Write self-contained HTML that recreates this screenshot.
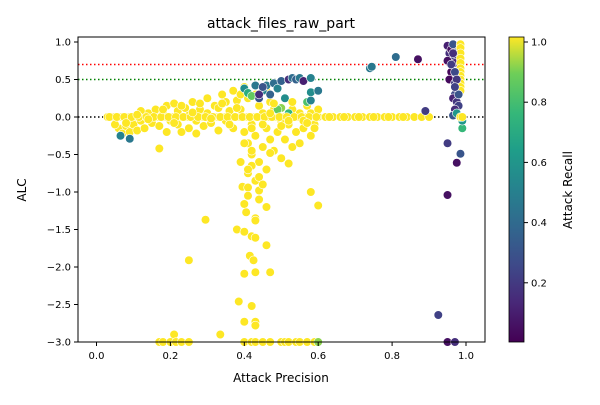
<!DOCTYPE html>
<html><head><meta charset="utf-8"><style>
body{margin:0;background:#fff;font-family:"Liberation Sans","DejaVu Sans",sans-serif;}
svg text{font-family:"DejaVu Sans","Liberation Sans",sans-serif;}
</style></head><body>
<svg id="chart" width="600" height="400" viewBox="0 0 600 400" xmlns="http://www.w3.org/2000/svg">
<defs><linearGradient id="vir" x1="0" y1="1" x2="0" y2="0">
<stop offset="0" stop-color="#440154"/><stop offset="0.13" stop-color="#482878"/><stop offset="0.25" stop-color="#3e4989"/><stop offset="0.38" stop-color="#31688e"/><stop offset="0.5" stop-color="#26828e"/><stop offset="0.63" stop-color="#1f9e89"/><stop offset="0.75" stop-color="#35b779"/><stop offset="0.88" stop-color="#6ece58"/><stop offset="1" stop-color="#fde725"/></linearGradient></defs>
<rect x="0" y="0" width="600" height="400" fill="#fff"/>
<text x="281" y="28" font-size="14" text-anchor="middle">attack_files_raw_part</text>
<g id="plot"></g>
<rect x="78" y="37" width="407" height="305" fill="none" stroke="#000" stroke-width="1"/>
<g id="axes"></g>
<text x="281" y="382" font-size="12" text-anchor="middle">Attack Precision</text>
<text x="26" y="190" font-size="12" text-anchor="middle" transform="rotate(-90 26 190)">ALC</text>
<rect x="509" y="37" width="15" height="305" fill="url(#vir)" stroke="#000" stroke-width="0.8"/>
<g id="cbticks"></g>
<text x="572" y="190" font-size="12" text-anchor="middle" transform="rotate(-90 572 190)">Attack Recall</text>
</svg>
<script>
const xTicks=[0.0,0.2,0.4,0.6,0.8,1.0];
const yTicks=[1.0,0.5,0.0,-0.5,-1.0,-1.5,-2.0,-2.5,-3.0];
const cTicks=[0.2,0.4,0.6,0.8,1.0];
const refLines=[0.7,0.5,0.0];
const refColors=['red','green','black'];
const xs=[0.03,0.04,0.05,0.06,0.07,0.08,0.09,0.10,0.11,0.12,0.13,0.14,0.15,0.16,0.17,0.18,0.19,0.2,0.21,0.22,0.23,0.24,0.25,0.26,0.27,0.28,0.29,0.30,0.31,0.32,0.33,0.34,0.35,0.36,0.37,0.38,0.39,0.40,0.41,0.42,0.43,0.44,0.45,0.46,0.47,0.48,0.49,0.50,0.51,0.52,0.53,0.54,0.55,0.56,0.57,0.58,0.59,0.60,0.62,0.64,0.66,0.68,0.70,0.72,0.74,0.76,0.78,0.80,0.82,0.84,0.86,0.88,0.90,
0.06,0.07,0.08,0.09,0.10,0.11,0.12,0.13,0.14,0.15,0.16,0.17,0.17,0.18,0.19,0.20,0.21,0.22,0.22,0.23,0.24,0.25,0.25,0.26,0.27,0.27,0.28,0.29,0.30,0.30,0.31,0.32,0.33,0.33,0.34,0.35,0.35,0.36,0.37,0.37,0.38,0.39,0.40,0.05,0.08,0.12,0.19,0.23,0.28,
0.40,0.41,0.42,0.42,0.43,0.44,0.44,0.45,0.45,0.46,0.46,0.47,0.47,0.48,0.48,0.49,0.50,0.50,0.51,0.51,0.52,0.53,0.53,0.54,0.55,0.55,0.56,0.57,0.58,0.58,0.59,0.60,0.41,0.43,0.44,0.39,0.40,0.42,0.43,0.46,0.39,0.41,0.52,0.47,
0.395,0.41,0.41,0.44,0.44,0.46,0.40,0.405,0.43,0.43,0.295,0.38,0.40,0.42,0.43,0.46,0.415,0.425,0.40,0.43,0.47,0.25,0.58,0.60,0.385,0.42,0.40,0.43,0.43,0.335,0.21,0.42,0.45,0.41,
0.17,0.18,0.20,0.215,0.23,0.25,0.40,0.42,0.43,0.45,0.47,0.50,0.51,0.52,0.54,0.55,0.57,0.59,0.60,0.95,0.97,
0.09,0.065,
0.40,0.41,0.42,0.43,0.44,0.45,0.46,0.47,0.48,0.49,0.50,0.51,0.52,0.53,0.54,0.55,0.56,0.57,0.58,0.58,0.60,0.58,0.44,0.45,0.50,0.49,0.52,
0.81,0.87,0.74,0.745,0.89,0.95,0.985,0.975,0.99,0.99,0.95,0.925,
0.95,0.955,0.96,0.965,0.97,0.95,0.96,0.955,0.97,0.975,0.97,0.965,0.975,0.98,0.97,0.965,0.98,0.975,0.97,0.98,0.985,0.975,
0.985,0.985,0.985,0.985,0.985,0.985,0.985,0.985,0.985,0.985,0.985,0.985,0.985,0.99,
0.035,0.055,0.075,0.095,0.115,0.135,0.155,0.175,0.195,0.215,0.235,0.255,0.275,0.295,0.315,0.335,0.355,0.375,0.395,0.415,0.435,0.455,0.475,0.495,0.515,0.535,0.555,0.575,0.595,0.63,0.67,0.71,0.75,0.79,0.83,
0.08,0.11,0.14,0.18,0.21,0.26,0.31,0.34,0.36,0.38,0.45,0.48,0.5,0.53,0.56,0.59,0.42,0.47,0.52,0.57,
0.96,0.97,0.975,0.98,0.97,0.965];
const ys=[0,0,0,0,0,0,0,0,0,0,0,0,0,0,0,0,0,0,0,0,0,0,0,0,0,0,0,0,0,0,0,0,0,0,0,0,0,0,0,0,0,0,0,0,0,0,0,0,0,0,0,0,0,0,0,0,0,0,0,0,0,0,0,0,0,0,0,0,0,0,0,0,0,
-0.15,-0.22,-0.12,-0.2,-0.1,-0.18,-0.05,-0.15,0.05,-0.08,0.1,-0.12,-0.42,0.05,0.15,-0.05,0.18,-0.1,0.08,-0.2,0.12,-0.15,0.02,0.2,-0.05,-0.22,0.1,-0.12,0.25,0.05,-0.08,0.15,-0.18,0.12,0.3,-0.05,0.2,0.08,-0.15,0.35,0.22,0.1,0.4,-0.1,-0.05,0.08,-0.2,0.15,0.18,
-0.2,-0.35,-0.1,-0.5,-0.25,0.15,-0.6,-0.4,0.05,-0.15,-0.7,0.2,-0.3,-0.45,0.1,-0.2,-0.05,-0.55,0.25,-0.3,-0.1,-0.4,0.1,-0.2,0.05,-0.35,-0.15,0.15,-0.25,0.05,-0.1,0.1,-0.75,-0.85,-0.8,-0.6,-0.35,-0.65,0.3,0.35,0.3,0.25,-0.62,-0.48,
-0.93,-0.94,-1.05,-0.98,-1.10,-1.20,-1.16,-1.27,-1.35,-1.38,-1.37,-1.50,-1.53,-1.59,-1.61,-1.71,-1.85,-1.91,-2.09,-2.07,-2.07,-1.91,-1.00,-1.18,-2.46,-2.52,-2.73,-2.73,-2.78,-2.90,-2.90,-0.45,-0.9,-0.7,
-3,-3,-3,-3,-3,-3,-3,-3,-3,-3,-3,-3,-3,-3,-3,-3,-3,-3,-3,-3,-3,
-0.29,-0.25,
0.38,0.32,0.28,0.42,0.25,0.35,0.42,0.3,0.45,0.38,0.48,0.25,0.5,0.52,0.5,0.52,0.48,0.2,0.52,0.33,0.35,0.22,0.3,0.4,0.12,0.1,0.05,
0.80,0.77,0.65,0.67,0.08,-0.35,-0.49,-0.61,-0.15,-0.05,-1.04,-2.64,
0.95,0.85,0.9,0.97,0.8,0.75,0.6,0.5,0.45,0.38,0.3,0.25,0.2,0.15,0.1,0.02,0.55,0.65,0.72,0.88,0.95,0.05,
0.97,0.92,0.85,0.78,0.72,0.65,0.6,0.55,0.5,0.45,0.4,0.35,0.0,0.0,
0,0,0,0,0,0,0,0,0,0,0,0,0,0,0,0,0,0,0,0,0,0,0,0,0,0,0,0,0,0,0,0,0,0,0,
-0.08,0.03,-0.03,0.1,-0.08,0.06,-0.02,0.18,-0.1,0.12,-0.1,0.18,-0.12,0.2,-0.05,-0.15,-0.15,0.05,-0.05,-0.08,
0.7,0.6,0.5,0.3,0.4,0.85];
const rs=[1,1,1,1,1,1,1,1,1,1,1,1,1,1,1,1,1,1,1,1,1,1,1,1,1,1,1,1,1,1,1,1,1,1,1,1,1,1,1,1,1,1,1,1,1,1,1,1,1,1,1,1,1,1,1,1,1,1,1,1,1,1,1,1,1,1,1,1,1,1,1,1,1,
1,1,1,1,1,1,1,1,1,1,1,1,1,1,1,1,1,1,1,1,1,1,1,1,1,1,1,1,1,1,1,1,1,1,1,1,1,1,1,1,1,1,1,1,1,1,1,1,1,
1,1,1,1,1,1,1,1,1,1,1,1,1,1,1,1,1,1,1,1,1,1,1,1,1,1,1,1,1,1,1,1,1,1,1,1,1,1,1,1,1,1,1,1,
1,1,1,1,1,1,1,1,1,1,1,1,1,1,1,1,1,1,1,1,1,1,1,1,1,1,1,1,1,1,1,1,1,1,
1,1,1,1,1,1,1,1,1,1,1,1,1,1,1,1,1,1,0.9,0.05,0.15,
0.45,0.5,
0.55,0.7,0.85,0.45,0.3,0.5,0.45,0.35,0.4,0.5,0.35,0.55,0.15,0.4,0.35,0.45,0.1,0.8,0.5,0.55,0.45,0.5,0.15,0.3,0.9,0.85,0.75,
0.4,0.05,0.45,0.45,0.2,0.2,0.3,0.05,0.75,0.6,0.05,0.22,
0.1,0.15,0.05,0.3,0.2,0.05,0.02,0.03,0.2,0.15,0.25,0.12,0.18,0.22,0.15,0.3,0.1,0.08,0.12,0.4,0.5,0.6,
1,1,1,1,1,1,1,1,1,1,1,1,1,1,
1,1,1,1,1,1,1,1,1,1,1,1,1,1,1,1,1,1,1,1,1,1,1,1,1,1,1,1,1,1,1,1,1,1,1,
1,1,1,1,1,1,1,1,1,1,1,1,1,1,1,1,1,1,1,1,
0.2,0.25,0.18,0.3,0.22,0.15];
const NS='http://www.w3.org/2000/svg';
const X=v=>96.5+369.5*v, Y=v=>117-75*v;
const stops=[[68,1,84],[72,40,120],[62,73,137],[49,104,142],[38,130,142],[31,158,137],[53,183,121],[110,206,88],[253,231,37]];
function vir(t){t=Math.max(0,Math.min(1,t));const p=t*(stops.length-1),i=Math.min(stops.length-2,Math.floor(p)),f=p-i;const a=stops[i],b=stops[i+1];return 'rgb('+a.map((c,k)=>Math.round(c+(b[k]-c)*f)).join(',')+')';}
function mk(tag,attrs,parent){const e=document.createElementNS(NS,tag);for(const k in attrs)e.setAttribute(k,attrs[k]);parent.appendChild(e);return e;}
const plot=document.getElementById('plot'),axes=document.getElementById('axes'),cb=document.getElementById('cbticks');
refLines.forEach((v,i)=>{const l=mk('line',{x1:78,x2:485,y1:Y(v),y2:Y(v),stroke:refColors[i],'stroke-width':1.5,'stroke-dasharray':'1.5,2.5'},plot);

});
for(let i=0;i<xs.length;i++){const c=mk('circle',{cx:X(xs[i]),cy:Y(ys[i]),r:4.3,fill:vir(rs[i]),stroke:'#fff','stroke-width':0.6},plot);

}
xTicks.forEach(v=>{mk('line',{x1:X(v),x2:X(v),y1:342,y2:346,stroke:'#000'},axes);const t=mk('text',{x:X(v),y:359,'font-size':10,'text-anchor':'middle'},axes);t.textContent=v.toFixed(1);

});
yTicks.forEach(v=>{mk('line',{x1:74,x2:78,y1:Y(v),y2:Y(v),stroke:'#000'},axes);const t=mk('text',{x:71,y:Y(v)+3.5,'font-size':10,'text-anchor':'end'},axes);t.textContent=(v<0?'\u2212':'')+Math.abs(v).toFixed(1);

});
cTicks.forEach(v=>{const yy=42+(1-v)*301;mk('line',{x1:524,x2:528,y1:yy,y2:yy,stroke:'#000'},cb);const t=mk('text',{x:531,y:yy+3.5,'font-size':10},cb);t.textContent=v.toFixed(1);

});
</script>
</body></html>
